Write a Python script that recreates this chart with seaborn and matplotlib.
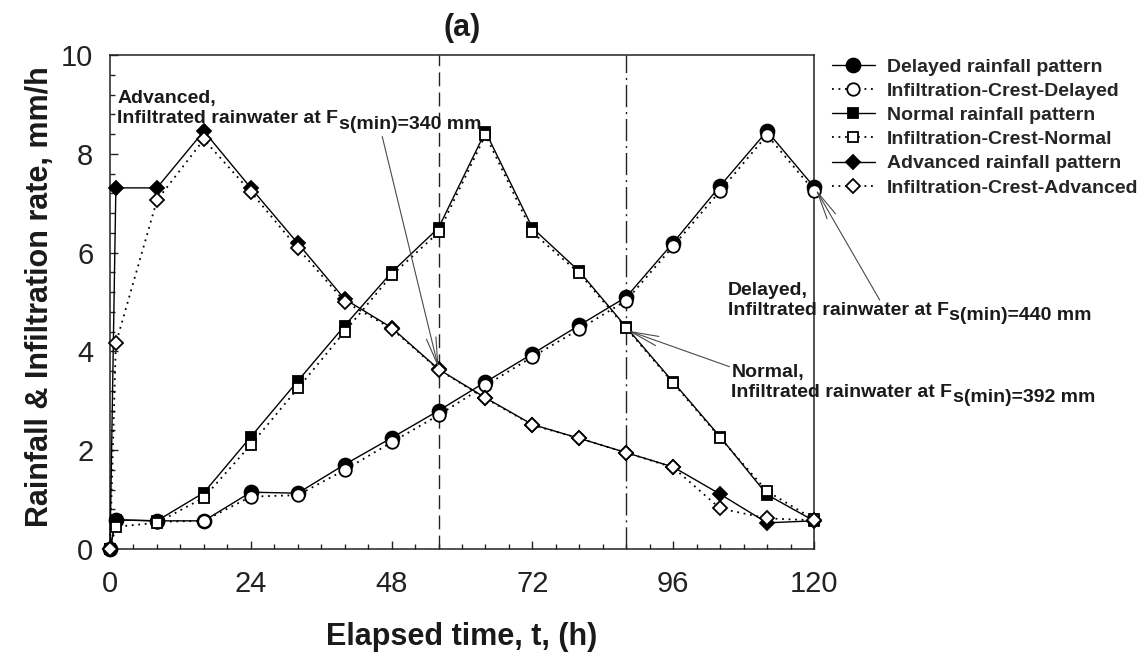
import numpy as np
import pandas as pd
import matplotlib
matplotlib.use("Agg")
import matplotlib.pyplot as plt
from matplotlib.ticker import MultipleLocator
import seaborn as sns

# ---------------- data ----------------
time_h = [0, 1, 8, 16, 24, 32, 40, 48, 56, 64, 72, 80, 88, 96, 104, 112, 120]
time_h_delayed_inf = [8, 16, 24, 32, 40, 48, 56, 64, 72, 80, 88, 96, 104, 112, 120]

delayed_rain = [0, 0.59, 0.57, 0.57, 1.15, 1.13, 1.71, 2.25, 2.80, 3.38, 3.95, 4.53, 5.10, 6.20, 7.35, 8.46, 7.33]
delayed_inf = [0.55, 0.57, 1.06, 1.09, 1.60, 2.16, 2.71, 3.31, 3.89, 4.45, 5.03, 6.13, 7.25, 8.38, 7.25]

normal_rain = [0, 0.59, 0.57, 1.14, 2.27, 3.40, 4.52, 5.60, 6.50, 8.45, 6.50, 5.62, 4.49, 3.38, 2.27, 1.10, 0.57]
normal_inf = [0, 0.45, 0.53, 1.04, 2.11, 3.25, 4.40, 5.54, 6.41, 8.38, 6.41, 5.58, 4.47, 3.36, 2.25, 1.17, 0.60]

advanced_rain = [0, 7.31, 7.31, 8.46, 7.31, 6.19, 5.06, 4.48, 3.64, 3.06, 2.52, 2.24, 1.95, 1.66, 1.11, 0.53, 0.57]
advanced_inf = [0, 4.16, 7.06, 8.29, 7.23, 6.09, 5.01, 4.46, 3.63, 3.05, 2.51, 2.24, 1.95, 1.65, 0.82, 0.62, 0.58]

series_labels = ["Delayed rainfall pattern", "Infiltration-Crest-Delayed",
                 "Normal rainfall pattern", "Infiltration-Crest-Normal",
                 "Advanced rainfall pattern", "Infiltration-Crest-Advanced"]

crit_times = [56, 88]
xticks = [0, 24, 48, 72, 96, 120]
yticks = [0, 2, 4, 6, 8, 10]

# ---------------- style ----------------
sns.set_style("ticks")
plt.rcParams["font.family"] = ["Liberation Sans", "DejaVu Sans"]

fig = plt.figure(figsize=(11.47, 6.56), dpi=100)
fig.patch.set_facecolor("white")
W, H = 1147, 656
ax = fig.add_axes([110 / W, 1 - 549 / H, (814 - 110) / W, (549 - 55) / H])

dotted = (0, (1.0, 2.6))
series = [
    (time_h, delayed_rain, "o", "black", "-", 10, series_labels[0]),
    (time_h_delayed_inf, delayed_inf, "o", "white", dotted, 9, series_labels[1]),
    (time_h, normal_rain, "s", "black", "-", 7.3, series_labels[2]),
    (time_h, normal_inf, "s", "white", dotted, 7.0, series_labels[3]),
    (time_h, advanced_rain, "D", "black", "-", 7.6, series_labels[4]),
    (time_h, advanced_inf, "D", "white", dotted, 7.6, series_labels[5]),
]

for x, y, mk, fc, ls, ms, lab in series:
    df = pd.DataFrame({"t": x, "v": y})
    sns.lineplot(data=df, x="t", y="v", ax=ax, color="black", linestyle=ls,
                 linewidth=1.0 if ls == "-" else 1.3, marker=mk, markersize=ms,
                 markerfacecolor=fc, markeredgecolor="black",
                 markeredgewidth=1.3, label=lab, clip_on=False, zorder=3,
                 estimator=None, sort=False)

# critical vertical lines
ax.axvline(crit_times[0], color="#222222", lw=1.0, linestyle=(0, (10, 4.5)), zorder=1)
ax.axvline(crit_times[1], color="#222222", lw=1.0, linestyle=(0, (16, 3.5, 1.5, 3.5)), zorder=1)

ax.set_xlim(0, 120)
ax.set_ylim(0, 10)
ax.set_xticks(xticks)
ax.set_yticks(yticks)
ax.xaxis.set_minor_locator(MultipleLocator(4))
ax.yaxis.set_minor_locator(MultipleLocator(0.4))
ax.tick_params(axis="both", which="major", direction="in", length=5.8, width=1.0,
               labelsize=21, top=False, right=False, colors="#222222", labelcolor="#222222")
ax.tick_params(axis="both", which="minor", direction="in", length=3.3, width=1.0,
               top=False, right=False, colors="#222222")
ax.tick_params(axis="x", which="major", pad=15)
ax.tick_params(axis="y", which="major", pad=12)
for sp in ax.spines.values():
    sp.set_visible(True)
    sp.set_linewidth(1.1)
    sp.set_color("#222222")

ax.set_xlabel("Elapsed time, t, (h)", fontsize=22, fontweight="bold", va="center", color="#1a1a1a")
ax.set_ylabel("Rainfall & Infiltration rate, mm/h", fontsize=22, fontweight="bold", va="center", color="#1a1a1a")
ax.xaxis.set_label_coords(0.5, (549 - 637) / 494)
ax.yaxis.set_label_coords((40 - 110) / 704, (549 - 297) / 494)

fig.text(462 / W, 1 - 28 / H, "(a)", ha="center", va="center", fontsize=22, fontweight="bold", color="#1a1a1a")

# legend
handles, labels = ax.get_legend_handles_labels()
if ax.legend_:
    ax.legend_.remove()
fig.legend(handles, labels, loc="upper left", bbox_to_anchor=(832 / W, 1 - 58 / H),
           bbox_transform=fig.transFigure, frameon=False, borderpad=0, borderaxespad=0,
           prop={"size": 14, "weight": "bold"}, handlelength=2.2, handletextpad=0.62,
           labelspacing=0.34, numpoints=1)

# annotations
arrow_kw = dict(arrowstyle="->,head_length=2.0,head_width=0.35", color="#4a4a4a", lw=0.8,
                shrinkA=0, shrinkB=0)
ann_fs = 14


def annotate(label_lines, sub, text_xy, start_xy, tip_xy):
    # text_xy: left end of the baseline of the last line
    t = ax.text(text_xy[0], text_xy[1], label_lines, fontsize=ann_fs, fontweight="bold",
                ha="left", va="baseline", color="#1a1a1a", zorder=5, linespacing=1.25)
    ax.annotate(sub, xy=(1.0, 0.0), xycoords=t, xytext=(0.5, -1.0), textcoords="offset points",
                ha="left", va="baseline", fontsize=ann_fs, fontweight="bold", color="#1a1a1a",
                zorder=5)
    ax.annotate("", xy=tip_xy, xytext=start_xy, xycoords="data", textcoords="data",
                arrowprops=arrow_kw, annotation_clip=False, zorder=4)


annotate("Advanced,\nInfiltrated rainwater at F", "s(min)=340 mm",
         (1.2, 8.62), (46.4, 8.35), (56, 3.66))
annotate("Delayed,\nInfiltrated rainwater at F", "s(min)=440 mm",
         (105.3, 4.74), (131.2, 5.04), (120.3, 7.28))
annotate("Normal,\nInfiltrated rainwater at F", "s(min)=392 mm",
         (105.9, 3.08), (105.6, 3.69), (88.3, 4.42))

fig.savefig("out.png", dpi=100, facecolor="white")
